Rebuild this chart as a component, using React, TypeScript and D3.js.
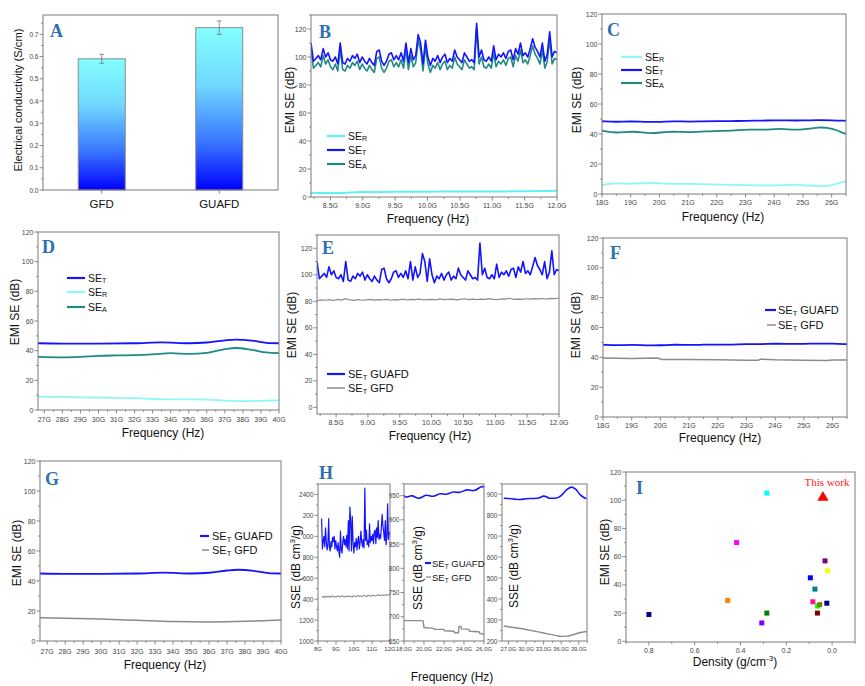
import React from 'react';
import * as d3 from 'd3';

const SANS = "'Liberation Sans', Arial, Helvetica, sans-serif";
const SERIF = "'Liberation Serif', 'Times New Roman', serif";
const TICK_TXT = '#444';
const FRAME = '#7a7a7a';
const LETTER = '#2f6fb0';
const BLUE = '#1414ff';
const TEAL = '#1f8a85';
const CYAN = '#5ff2f2';
const LCYAN = '#8ff7f7';
const GRAY = '#8c8c8c';

type Pt = [number, number];

// ---------- Panel A ----------
const condCategories = ['GFD', 'GUAFD'];
const condValues = [0.59, 0.73];
const condErrors = [0.02, 0.03];

// ---------- Panel B / E (8.2–12 GHz, X band) ----------
const xBandRange: Pt = [8.2, 12.0];
const xSET_GUAFD = [110,97,99,101,98,106,100,103,98,97,100,95,110,96,95,99,97,101,99,102,96,100,97,95,99,96,94,104,105,97,94,97,102,103,98,101,98,103,97,110,96,106,98,101,116,110,95,112,100,94,99,97,101,96,100,102,96,99,97,105,100,98,96,103,100,97,98,96,124,100,105,98,97,100,97,108,98,102,100,103,99,104,105,98,106,102,110,101,103,100,106,113,107,104,100,110,97,102,118,100,104,103];
const xSEA_GUAFD = [106,92,94,96,93,101,95,98,93,91,95,90,106,91,90,94,92,96,94,97,91,95,92,90,94,91,89,99,100,92,89,92,97,98,93,96,93,98,92,106,91,101,93,96,112,105,90,107,95,89,94,92,96,91,95,97,91,94,92,100,95,93,91,98,95,92,93,91,120,95,100,93,92,95,92,103,93,97,95,98,94,99,100,93,101,97,105,96,98,95,101,108,102,99,95,105,92,97,113,95,99,98];
const xSER_GUAFD: Pt[] = [[8.2,2.8],[8.6,2.8],[9.0,3.5],[9.5,3.7],[10,3.8],[10.5,4],[11,4],[11.5,4.1],[12,4.4]];
const xSET_GFD = [80.5,81,80.8,81.2,80.6,81.5,80.9,82,81,80.7,81.3,80.8,81.1,81.4,80.9,81.2,81,81.5,80.8,81.3,81.1,81.6,81,81.4,81.2,81.7,81,81.3,81.5,81.1,81.8,81.2,81.4,81.6,81.1,81.5,81.9,81.3,81.6,81.2,81.7,81.4,82,81.5,81.3,81.8,81.6,82.3,81.5,81.7,81.4,81.9,81.6,82,81.8,82.1,81.7,82.2,82,82.3];

// ---------- Panel C / F (18–26.5 GHz) ----------
const kSET_GUAFD: Pt[] = [[18,48.5],[18.5,48],[19,48.5],[19.5,48],[20,48],[20.5,48.6],[21,48.2],[21.5,48.5],[22,48.6],[22.5,48.5],[23,48.9],[23.5,48.8],[24,49.2],[24.5,49],[25,49],[25.5,49.3],[26,49.2],[26.5,48.8]];
const kSEA_GUAFD: Pt[] = [[18,42.2],[18.5,40.4],[19.1,42.2],[19.7,39.8],[20.3,42],[21.1,40.9],[21.9,42.2],[22.5,42],[23.1,43.1],[23.7,42.7],[24.2,43.8],[24.9,42.2],[25.6,44.9],[26,43.8],[26.5,40]];
const kSER_GUAFD: Pt[] = [[18,6],[18.5,7.5],[19.1,6.4],[19.7,8],[20.3,6.5],[21,7],[21.5,6.5],[22,6.3],[23,6],[24,5.5],[24.8,6.5],[25.5,5],[26,5.6],[26.5,8.5]];
const kSET_GFD: Pt[] = [[18,39.5],[19,39.3],[19.9,39.5],[20.05,38.6],[21,38.5],[22,38.3],[23,38],[23.4,38],[23.5,38.8],[24,38.3],[25,38],[25.8,37.8],[26,38.2],[26.5,38.2]];

// ---------- Panel D / G (26.5–40 GHz) ----------
const kaSET_GUAFD: Pt[] = [[26.6,45],[28,44.8],[30,44.8],[32,45],[33.5,45.6],[35,45],[36,45.5],[37,47],[37.6,47.5],[38.5,46.8],[39.3,45.3],[40,45]];
const kaSEA_GUAFD: Pt[] = [[26.6,35.8],[28,35.5],[29,35.8],[30,36.5],[31,36.8],[32,37],[33,37.5],[34,38.3],[35,37.8],[36,38.5],[37,41],[37.6,41.8],[38.5,40.5],[39.3,38.8],[40,38.3]];
const kaSER_GUAFD: Pt[] = [[26.6,9],[28,8.8],[30,8.3],[32,8],[33,7.5],[34,7.2],[35,7.2],[36,7],[37,6.3],[38,6],[39,6.2],[40,6.5]];
const kaSET_GFD: Pt[] = [[26.6,15.5],[28,15.2],[30,14.6],[32,13.8],[34,13],[35,12.8],[36,12.7],[37,12.8],[38,13.1],[39,13.5],[40,14]];

// ---------- Panel H (SSE) ----------
const sseX_GUAFD = [2170,1880,1950,2000,1900,2080,1950,1870,1920,2170,1890,1860,1950,1900,1990,1950,2000,1880,1960,1900,1860,1940,1850,1800,2050,1870,1840,1950,2000,1920,1970,1900,2010,1880,2150,1860,2280,2150,1860,2190,1950,1840,1940,1900,1980,1870,1960,2000,1880,1940,2050,1950,1900,1970,1890,2460,1960,2060,1920,1960,1900,2120,1940,2000,1960,2020,1930,2040,2060,1930,2080,1990,2150,1970,2020,1980,2080,2210,2100,2040,1960,2150,1920,2000,2310,1970,2040,2020];
const sseX_GFD = [1418,1425,1415,1430,1420,1428,1418,1432,1422,1426,1419,1430,1424,1421,1433,1425,1420,1429,1423,1431,1426,1420,1432,1427,1424,1435,1428,1430,1426,1436,1430,1425,1438,1432,1428,1440,1433,1430,1436,1442,1434,1438,1440,1436,1443,1438,1441,1445];
const sseK_GUAFD: Pt[] = [[18,950],[18.3,945],[18.8,953],[19.5,940],[20.2,955],[20.9,945],[21.6,957],[22.2,950],[22.9,960],[23.6,954],[24.3,965],[25,957],[25.7,970],[26,968]];
const sseK_GFD: Pt[] = [[18,692],[19.9,692],[20.0,678],[21,676],[21.05,674],[22,674],[22.05,671],[23,670],[23.05,667],[23.45,667],[23.5,680],[23.7,680],[23.75,675],[24.5,674],[24.55,670],[25.5,669],[25.55,666],[26,664]];
const sseKa_GUAFD: Pt[] = [[26.2,880],[27,879],[28,876],[29,874],[30,878],[31,879],[32,880],[33,890],[33.5,887],[34,880],[35,880],[36,893],[37,922],[37.8,933],[38.5,922],[39.3,895],[40.3,878]];
const sseKa_GFD: Pt[] = [[26.2,272],[27,268],[30,255],[33,238],[35,227],[36,222],[37,223],[38,230],[39,238],[40.3,245]];

// ---------- Panel I (comparison) ----------
const refDensity = [0.80, 0.456, 0.417, 0.307, 0.285, 0.285, 0.095, 0.075, 0.084, 0.063, 0.054, 0.064, 0.031, 0.02, 0.023];
const refSE = [19, 29, 70, 13, 105, 20, 45, 37, 28, 25, 26, 20, 57, 50, 27];
const refColors = ['#00008b', '#ff8000', '#ff00ff', '#8000ff', '#00ffff', '#008000', '#0000ff', '#008080', '#ff1493', '#00ff00', '#808000', '#800000', '#800080', '#ffff00', '#000080'];
const thisWork: Pt = [0.04, 102];

// ---------- helpers ----------
const grid = (vals: number[], r: Pt): Pt[] => vals.map((v, i) => [r[0] + (i * (r[1] - r[0])) / (vals.length - 1), v]);
const range = (a: number, b: number, s: number) => d3.range(a, b + s / 2, s).map(v => +v.toFixed(4));

interface Box { l: number; r: number; t: number; b: number }

interface AxesProps {
  box: Box;
  x: d3.ScaleLinear<number, number>;
  y: d3.ScaleLinear<number, number>;
  xTicks: number[];
  xFmt: (v: number) => string;
  yTicks: number[];
  yFmt: (v: number) => string;
  xMinor?: number[];
  yMinor?: number[];
  fs?: number;
  xfs?: number;
  xLabelDy?: number;
}

function Axes({ box, x, y, xTicks, xFmt, yTicks, yFmt, xMinor = [], yMinor = [], fs = 7, xfs, xLabelDy = 8 }: AxesProps) {
  return (
    <g fontFamily={SANS}>
      <rect x={box.l} y={box.t} width={box.r - box.l} height={box.b - box.t} fill="none" stroke={FRAME} strokeWidth={1} />
      {yMinor.map((v, i) => (
        <line key={'ym' + i} x1={box.l - 2} x2={box.l} y1={y(v)} y2={y(v)} stroke={FRAME} strokeWidth={0.8} />
      ))}
      {yTicks.map((v, i) => (
        <g key={'y' + i}>
          <line x1={box.l - 3.5} x2={box.l} y1={y(v)} y2={y(v)} stroke={FRAME} strokeWidth={0.9} />
          <text x={box.l - 4.5} y={y(v)} textAnchor="end" dominantBaseline="central" fontSize={fs} fill={TICK_TXT}>{yFmt(v)}</text>
        </g>
      ))}
      {xMinor.map((v, i) => (
        <line key={'xm' + i} x1={x(v)} x2={x(v)} y1={box.b} y2={box.b + 2} stroke={FRAME} strokeWidth={0.8} />
      ))}
      {xTicks.map((v, i) => (
        <g key={'x' + i}>
          <line x1={x(v)} x2={x(v)} y1={box.b} y2={box.b + 3.5} stroke={FRAME} strokeWidth={0.9} />
          <text x={x(v)} y={box.b + xLabelDy} textAnchor="middle" dominantBaseline="central" fontSize={xfs ?? fs} fill={TICK_TXT}>{xFmt(v)}</text>
        </g>
      ))}
    </g>
  );
}

function Letter({ x, y, t }: { x: number; y: number; t: string }) {
  return <text x={x} y={y} dominantBaseline="central" fontFamily={SERIF} fontWeight="bold" fontSize={18} fill={LETTER}>{t}</text>;
}

function YTitle({ x, y, children, fs = 12 }: { x: number; y: number; children: React.ReactNode; fs?: number }) {
  return <text transform={`translate(${x},${y}) rotate(-90)`} textAnchor="middle" dominantBaseline="central" fontFamily={SANS} fontSize={fs} fill="#111">{children}</text>;
}

function XTitle({ x, y, children, fs = 12 }: { x: number; y: number; children: React.ReactNode; fs?: number }) {
  return <text x={x} y={y} textAnchor="middle" dominantBaseline="central" fontFamily={SANS} fontSize={fs} fill="#111">{children}</text>;
}

function Line({ pts, x, y, color, w = 1.6, curve = d3.curveLinear, clip }: { pts: Pt[]; x: any; y: any; color: string; w?: number; curve?: any; clip: string }) {
  const gen = d3.line<Pt>().x(d => x(d[0])).y(d => y(d[1])).curve(curve);
  return <path d={gen(pts) || ''} fill="none" stroke={color} strokeWidth={w} strokeLinejoin="round" clipPath={`url(#${clip})`} />;
}

function Clip({ id, box }: { id: string; box: Box }) {
  return (
    <clipPath id={id}>
      <rect x={box.l} y={box.t} width={box.r - box.l} height={box.b - box.t} />
    </clipPath>
  );
}

interface LegItem { color: string; sub: string; suffix?: string; y: number; x1: number; x2: number; w?: number }
function Legend({ items, tx, fs = 11 }: { items: LegItem[]; tx: number; fs?: number }) {
  return (
    <g fontFamily={SANS}>
      {items.map((it, i) => (
        <g key={i}>
          <line x1={it.x1} x2={it.x2} y1={it.y} y2={it.y} stroke={it.color} strokeWidth={it.w ?? 2.2} />
          <text x={tx} y={it.y} dominantBaseline="central" fontSize={fs} fill="#111">
            SE<tspan dy={fs * 0.3} fontSize={fs * 0.68}>{it.sub}</tspan>
            {it.suffix ? <tspan dy={-fs * 0.3}>{' ' + it.suffix}</tspan> : null}
          </text>
        </g>
      ))}
    </g>
  );
}

const fmtG1 = (v: number) => v.toFixed(1) + 'G';
const fmtG0 = (v: number) => v.toFixed(0) + 'G';
const fmtInt = (v: number) => v.toFixed(0);

export default function App() {
  // ---- A ----
  const boxA: Box = { l: 43, r: 278, t: 15, b: 190 };
  const xA = d3.scaleBand<string>().domain(condCategories).range([boxA.l, boxA.r]).paddingInner(0.6).paddingOuter(0.3);
  const yA = d3.scaleLinear().domain([0, 0.787]).range([boxA.b, boxA.t]);

  // ---- B ----
  const boxB: Box = { l: 311, r: 557, t: 15, b: 197 };
  const xB = d3.scaleLinear().domain(xBandRange).range([boxB.l, boxB.r]);
  const yB = d3.scaleLinear().domain([0, 130]).range([boxB.b, boxB.t]);

  // ---- C ----
  const boxC: Box = { l: 602, r: 846, t: 14, b: 194 };
  const xC = d3.scaleLinear().domain([18, 26.5]).range([boxC.l, boxC.r]);
  const yC = d3.scaleLinear().domain([0, 120]).range([boxC.b, boxC.t]);

  // ---- D ----
  const boxD: Box = { l: 38, r: 279, t: 232, b: 410 };
  const xD = d3.scaleLinear().domain([26.65, 40]).range([boxD.l, boxD.r]);
  const yD = d3.scaleLinear().domain([0, 120]).range([boxD.b, boxD.t]);

  // ---- E ----
  const boxE: Box = { l: 317, r: 559, t: 235, b: 414 };
  const xE = d3.scaleLinear().domain(xBandRange).range([boxE.l, boxE.r]);
  const yE = d3.scaleLinear().domain([-5, 130]).range([boxE.b, boxE.t]);

  // ---- F ----
  const boxF: Box = { l: 603, r: 847, t: 238, b: 417 };
  const xF = d3.scaleLinear().domain([18, 26.5]).range([boxF.l, boxF.r]);
  const yF = d3.scaleLinear().domain([0, 120]).range([boxF.b, boxF.t]);

  // ---- G ----
  const boxG: Box = { l: 40, r: 281, t: 461, b: 641 };
  const xG = d3.scaleLinear().domain([26.6, 40]).range([boxG.l, boxG.r]);
  const yG = d3.scaleLinear().domain([0, 120]).range([boxG.b, boxG.t]);

  // ---- H ----
  const boxH1: Box = { l: 318, r: 390, t: 484, b: 641 };
  const xH1 = d3.scaleLinear().domain([8, 12]).range([boxH1.l, boxH1.r]);
  const yH1 = d3.scaleLinear().domain([1000, 2500]).range([boxH1.b, boxH1.t]);
  const boxH2: Box = { l: 404, r: 484, t: 484, b: 641 };
  const xH2 = d3.scaleLinear().domain([18, 26]).range([boxH2.l, boxH2.r]);
  const yH2 = d3.scaleLinear().domain([650, 974]).range([boxH2.b, boxH2.t]);
  const boxH3: Box = { l: 502, r: 587, t: 484, b: 641 };
  const xH3 = d3.scaleLinear().domain([25.9, 40.4]).range([boxH3.l, boxH3.r]);
  const yH3 = d3.scaleLinear().domain([200, 948]).range([boxH3.b, boxH3.t]);
  const h1Labels: Record<number, string> = { 1000: '1000', 1200: '1200', 1400: '400', 1600: '600', 1800: '800', 2000: '000', 2200: '200', 2400: '2400' };

  // ---- I ----
  const boxI: Box = { l: 626, r: 855, t: 472, b: 642 };
  const xI = d3.scaleLinear().domain([0.9, -0.1]).range([boxI.l, boxI.r]);
  const yI = d3.scaleLinear().domain([-0.5, 120]).range([boxI.b, boxI.t]);
  const tri = d3.symbol().type(d3.symbolTriangle).size(55)();

  const smooth = d3.curveMonotoneX;

  return (
    <svg width={865} height={686} style={{ position: 'absolute', left: 0, top: 0, background: '#fff' }}>
      <defs>
        <linearGradient id="barGrad" x1="0" y1="0" x2="0" y2="1">
          <stop offset="0%" stopColor="#84ffff" />
          <stop offset="35%" stopColor="#70d8ff" />
          <stop offset="70%" stopColor="#3a78ff" />
          <stop offset="100%" stopColor="#0000ff" />
        </linearGradient>
        <Clip id="cB" box={boxB} />
        <Clip id="cC" box={boxC} />
        <Clip id="cD" box={boxD} />
        <Clip id="cE" box={boxE} />
        <Clip id="cF" box={boxF} />
        <Clip id="cG" box={boxG} />
        <Clip id="cH1" box={boxH1} />
        <Clip id="cH2" box={boxH2} />
        <Clip id="cH3" box={boxH3} />
      </defs>
      <rect width={865} height={686} fill="#fff" />

      {/* ===== A ===== */}
      <g>
        {condCategories.map((c, i) => {
          const bx = xA(c)!;
          const bw = xA.bandwidth();
          const cx = bx + bw / 2;
          return (
            <g key={c}>
              <rect x={bx} y={yA(condValues[i])} width={bw} height={yA(0) - yA(condValues[i])} fill="url(#barGrad)" stroke="#8a8a8a" strokeWidth={1} />
              <line x1={cx} x2={cx} y1={yA(condValues[i] - condErrors[i])} y2={yA(condValues[i] + condErrors[i])} stroke="#777" strokeWidth={0.8} />
              <line x1={cx - 2.5} x2={cx + 2.5} y1={yA(condValues[i] - condErrors[i])} y2={yA(condValues[i] - condErrors[i])} stroke="#777" strokeWidth={0.8} />
              <line x1={cx - 2.5} x2={cx + 2.5} y1={yA(condValues[i] + condErrors[i])} y2={yA(condValues[i] + condErrors[i])} stroke="#777" strokeWidth={0.8} />
              <line x1={cx} x2={cx} y1={boxA.b} y2={boxA.b + 3.5} stroke={FRAME} />
              <text x={cx} y={204} textAnchor="middle" dominantBaseline="central" fontFamily={SANS} fontSize={11.5} fill="#111">{c}</text>
            </g>
          );
        })}
        <Axes box={boxA} x={d3.scaleLinear()} y={yA} xTicks={[]} xFmt={fmtInt}
          yTicks={range(0, 0.7, 0.1)} yFmt={v => v.toFixed(1)} yMinor={range(0.05, 0.75, 0.1)} fs={6.5} />
        <Letter x={50} y={31} t="A" />
        <YTitle x={18} y={100} fs={11.2}>Electrical conductivity (S/cm)</YTitle>
      </g>

      {/* ===== B ===== */}
      <g>
        <Line pts={xSER_GUAFD} x={xB} y={yB} color={CYAN} w={2} curve={smooth} clip="cB" />
        <Line pts={grid(xSEA_GUAFD, xBandRange)} x={xB} y={yB} color={TEAL} w={1.6} clip="cB" />
        <Line pts={grid(xSET_GUAFD, xBandRange)} x={xB} y={yB} color={BLUE} w={1.6} clip="cB" />
        <Axes box={boxB} x={xB} y={yB} xTicks={range(8.5, 12, 0.5)} xFmt={fmtG1} xMinor={range(8.25, 12, 0.5)}
          yTicks={range(0, 120, 20)} yFmt={fmtInt} yMinor={range(10, 130, 20)} />
        <Legend tx={348} fs={10.5} items={[
          { color: CYAN, sub: 'R', y: 136, x1: 327, x2: 345 },
          { color: BLUE, sub: 'T', y: 150, x1: 327, x2: 345 },
          { color: TEAL, sub: 'A', y: 164, x1: 327, x2: 345 },
        ]} />
        <Letter x={319} y={32} t="B" />
        <YTitle x={290} y={100}>EMI SE (dB)</YTitle>
        <XTitle x={428} y={219}>Frequency (Hz)</XTitle>
      </g>

      {/* ===== C ===== */}
      <g>
        <Line pts={kSER_GUAFD} x={xC} y={yC} color={LCYAN} w={1.8} curve={d3.curveBasis} clip="cC" />
        <Line pts={kSEA_GUAFD} x={xC} y={yC} color={TEAL} w={1.8} curve={d3.curveBasis} clip="cC" />
        <Line pts={kSET_GUAFD} x={xC} y={yC} color={BLUE} w={1.8} curve={d3.curveBasis} clip="cC" />
        <Axes box={boxC} x={xC} y={yC} xTicks={range(18, 26, 1)} xFmt={fmtG0} xMinor={range(18.5, 26.5, 1)}
          yTicks={range(0, 120, 20)} yFmt={fmtInt} yMinor={range(10, 110, 20)} />
        <Legend tx={645} fs={10.5} items={[
          { color: LCYAN, sub: 'R', y: 57, x1: 621, x2: 642 },
          { color: BLUE, sub: 'T', y: 70, x1: 621, x2: 642 },
          { color: TEAL, sub: 'A', y: 83, x1: 621, x2: 642 },
        ]} />
        <Letter x={607} y={30} t="C" />
        <YTitle x={577} y={100}>EMI SE (dB)</YTitle>
        <XTitle x={723} y={217}>Frequency (Hz)</XTitle>
      </g>

      {/* ===== D ===== */}
      <g>
        <Line pts={kaSER_GUAFD} x={xD} y={yD} color={LCYAN} w={1.8} curve={smooth} clip="cD" />
        <Line pts={kaSEA_GUAFD} x={xD} y={yD} color={TEAL} w={1.8} curve={smooth} clip="cD" />
        <Line pts={kaSET_GUAFD} x={xD} y={yD} color={BLUE} w={1.8} curve={smooth} clip="cD" />
        <Axes box={boxD} x={xD} y={yD} xTicks={range(27, 40, 1)} xFmt={fmtG0} xMinor={range(27.5, 39.5, 1)}
          yTicks={range(0, 120, 20)} yFmt={fmtInt} yMinor={range(10, 110, 20)} xLabelDy={9.5} />
        <Legend tx={88} fs={10.5} items={[
          { color: BLUE, sub: 'T', y: 278, x1: 67, x2: 85 },
          { color: LCYAN, sub: 'R', y: 292, x1: 67, x2: 85 },
          { color: TEAL, sub: 'A', y: 307, x1: 67, x2: 85 },
        ]} />
        <Letter x={42} y={247} t="D" />
        <YTitle x={15} y={312}>EMI SE (dB)</YTitle>
        <XTitle x={163} y={433}>Frequency (Hz)</XTitle>
      </g>

      {/* ===== E ===== */}
      <g>
        <Line pts={grid(xSET_GFD, xBandRange)} x={xE} y={yE} color={GRAY} w={1.2} clip="cE" />
        <Line pts={grid(xSET_GUAFD, xBandRange)} x={xE} y={yE} color={BLUE} w={1.6} clip="cE" />
        <Axes box={boxE} x={xE} y={yE} xTicks={range(8.5, 12, 0.5)} xFmt={fmtG1} xMinor={range(8.25, 12, 0.5)}
          yTicks={range(0, 120, 20)} yFmt={fmtInt} yMinor={range(10, 130, 20)} />
        <Legend tx={348} fs={11} items={[
          { color: BLUE, sub: 'T', suffix: 'GUAFD', y: 374, x1: 327, x2: 345 },
          { color: GRAY, sub: 'T', suffix: 'GFD', y: 388, x1: 327, x2: 345, w: 1.5 },
        ]} />
        <Letter x={322} y={248} t="E" />
        <YTitle x={292} y={325}>EMI SE (dB)</YTitle>
        <XTitle x={430} y={436}>Frequency (Hz)</XTitle>
      </g>

      {/* ===== F ===== */}
      <g>
        <Line pts={kSET_GFD} x={xF} y={yF} color={GRAY} w={1.5} clip="cF" />
        <Line pts={kSET_GUAFD} x={xF} y={yF} color={BLUE} w={1.8} curve={d3.curveBasis} clip="cF" />
        <Axes box={boxF} x={xF} y={yF} xTicks={range(18, 26, 1)} xFmt={fmtG0} xMinor={range(18.5, 26.5, 1)}
          yTicks={range(0, 120, 20)} yFmt={fmtInt} yMinor={range(10, 110, 20)} />
        <Legend tx={778} fs={11} items={[
          { color: BLUE, sub: 'T', suffix: 'GUAFD', y: 310, x1: 765, x2: 776 },
          { color: GRAY, sub: 'T', suffix: 'GFD', y: 325, x1: 767, x2: 776, w: 1.5 },
        ]} />
        <Letter x={610} y={253} t="F" />
        <YTitle x={576} y={325}>EMI SE (dB)</YTitle>
        <XTitle x={720} y={438}>Frequency (Hz)</XTitle>
      </g>

      {/* ===== G ===== */}
      <g>
        <Line pts={kaSET_GFD} x={xG} y={yG} color={GRAY} w={1.5} curve={smooth} clip="cG" />
        <Line pts={kaSET_GUAFD} x={xG} y={yG} color={BLUE} w={1.8} curve={smooth} clip="cG" />
        <Axes box={boxG} x={xG} y={yG} xTicks={range(27, 40, 1)} xFmt={fmtG0} xMinor={range(27.5, 39.5, 1)}
          yTicks={range(0, 120, 20)} yFmt={fmtInt} yMinor={range(10, 110, 20)} xLabelDy={10} />
        <Legend tx={212} fs={11} items={[
          { color: BLUE, sub: 'T', suffix: 'GUAFD', y: 536, x1: 200, x2: 209 },
          { color: GRAY, sub: 'T', suffix: 'GFD', y: 550, x1: 202, x2: 209, w: 1.5 },
        ]} />
        <Letter x={45} y={479} t="G" />
        <YTitle x={17} y={553}>EMI SE (dB)</YTitle>
        <XTitle x={165} y={665}>Frequency (Hz)</XTitle>
      </g>

      {/* ===== H ===== */}
      <g>
        <Line pts={grid(sseX_GFD, xBandRange)} x={xH1} y={yH1} color={GRAY} w={1.1} clip="cH1" />
        <Line pts={grid(sseX_GUAFD, xBandRange)} x={xH1} y={yH1} color={BLUE} w={1.2} clip="cH1" />
        <Axes box={boxH1} x={xH1} y={yH1} xTicks={range(8, 12, 1)} xFmt={fmtG0} xMinor={range(8.5, 11.5, 1)}
          yTicks={range(1000, 2400, 200)} yFmt={v => h1Labels[v]} yMinor={range(1100, 2500, 200)} fs={6.5} xfs={6} />

        <Line pts={sseK_GFD} x={xH2} y={yH2} color={GRAY} w={1.4} clip="cH2" />
        <Line pts={sseK_GUAFD} x={xH2} y={yH2} color={BLUE} w={1.6} curve={d3.curveBasis} clip="cH2" />
        <Axes box={boxH2} x={xH2} y={yH2} xTicks={range(18, 26, 2)} xFmt={fmtG1} xMinor={range(19, 25, 2)}
          yTicks={range(650, 950, 50)} yFmt={fmtInt} yMinor={range(675, 975, 50)} fs={6.5} xfs={5.8} />

        <Line pts={sseKa_GFD} x={xH3} y={yH3} color={GRAY} w={1.4} curve={smooth} clip="cH3" />
        <Line pts={sseKa_GUAFD} x={xH3} y={yH3} color={BLUE} w={1.6} curve={smooth} clip="cH3" />
        <Axes box={boxH3} x={xH3} y={yH3} xTicks={range(27, 39, 3)} xFmt={fmtG1} xMinor={range(28.5, 40, 3)}
          yTicks={range(200, 900, 100)} yFmt={fmtInt} yMinor={range(250, 950, 100)} fs={6.5} xfs={5.8} />

        <Legend tx={432} fs={9.5} items={[
          { color: BLUE, sub: 'T', suffix: 'GUAFD', y: 563, x1: 425, x2: 431 },
          { color: GRAY, sub: 'T', suffix: 'GFD', y: 577, x1: 426, x2: 431, w: 1.3 },
        ]} />
        <Letter x={319} y={473} t="H" />
        <YTitle x={296} y={567}>SSE (dB cm<tspan dy={-4} fontSize={8}>3</tspan><tspan dy={4}>/g)</tspan></YTitle>
        <YTitle x={418} y={568}>SSE (dB cm<tspan dy={-4} fontSize={8}>3</tspan><tspan dy={4}>/g)</tspan></YTitle>
        <YTitle x={514} y={566}>SSE (dB cm<tspan dy={-4} fontSize={8}>3</tspan><tspan dy={4}>/g)</tspan></YTitle>
        <XTitle x={452} y={677}>Frequency (Hz)</XTitle>
      </g>

      {/* ===== I ===== */}
      <g>
        <Axes box={boxI} x={xI} y={yI} xTicks={range(0, 0.8, 0.2)} xFmt={v => v.toFixed(1)} xMinor={range(-0.1, 0.9, 0.2)}
          yTicks={range(0, 120, 20)} yFmt={fmtInt} yMinor={range(10, 110, 20)} />
        {refDensity.map((dv, i) => (
          <rect key={i} x={xI(dv) - 2.5} y={yI(refSE[i]) - 2.5} width={5} height={5} fill={refColors[i]} />
        ))}
        <path d={tri || ''} transform={`translate(${xI(thisWork[0])},${yI(thisWork[1])})`} fill="#ff0000" />
        <text x={827} y={482} textAnchor="middle" dominantBaseline="central" fontFamily={SERIF} fontSize={11} fill="#ff2020">This work</text>
        <Letter x={636} y={488} t="I" />
        <YTitle x={605} y={552}>EMI SE (dB)</YTitle>
        <XTitle x={735} y={662}>Density (g/cm<tspan dy={-4} fontSize={8}>-3</tspan><tspan dy={4}>)</tspan></XTitle>
      </g>
    </svg>
  );
}
